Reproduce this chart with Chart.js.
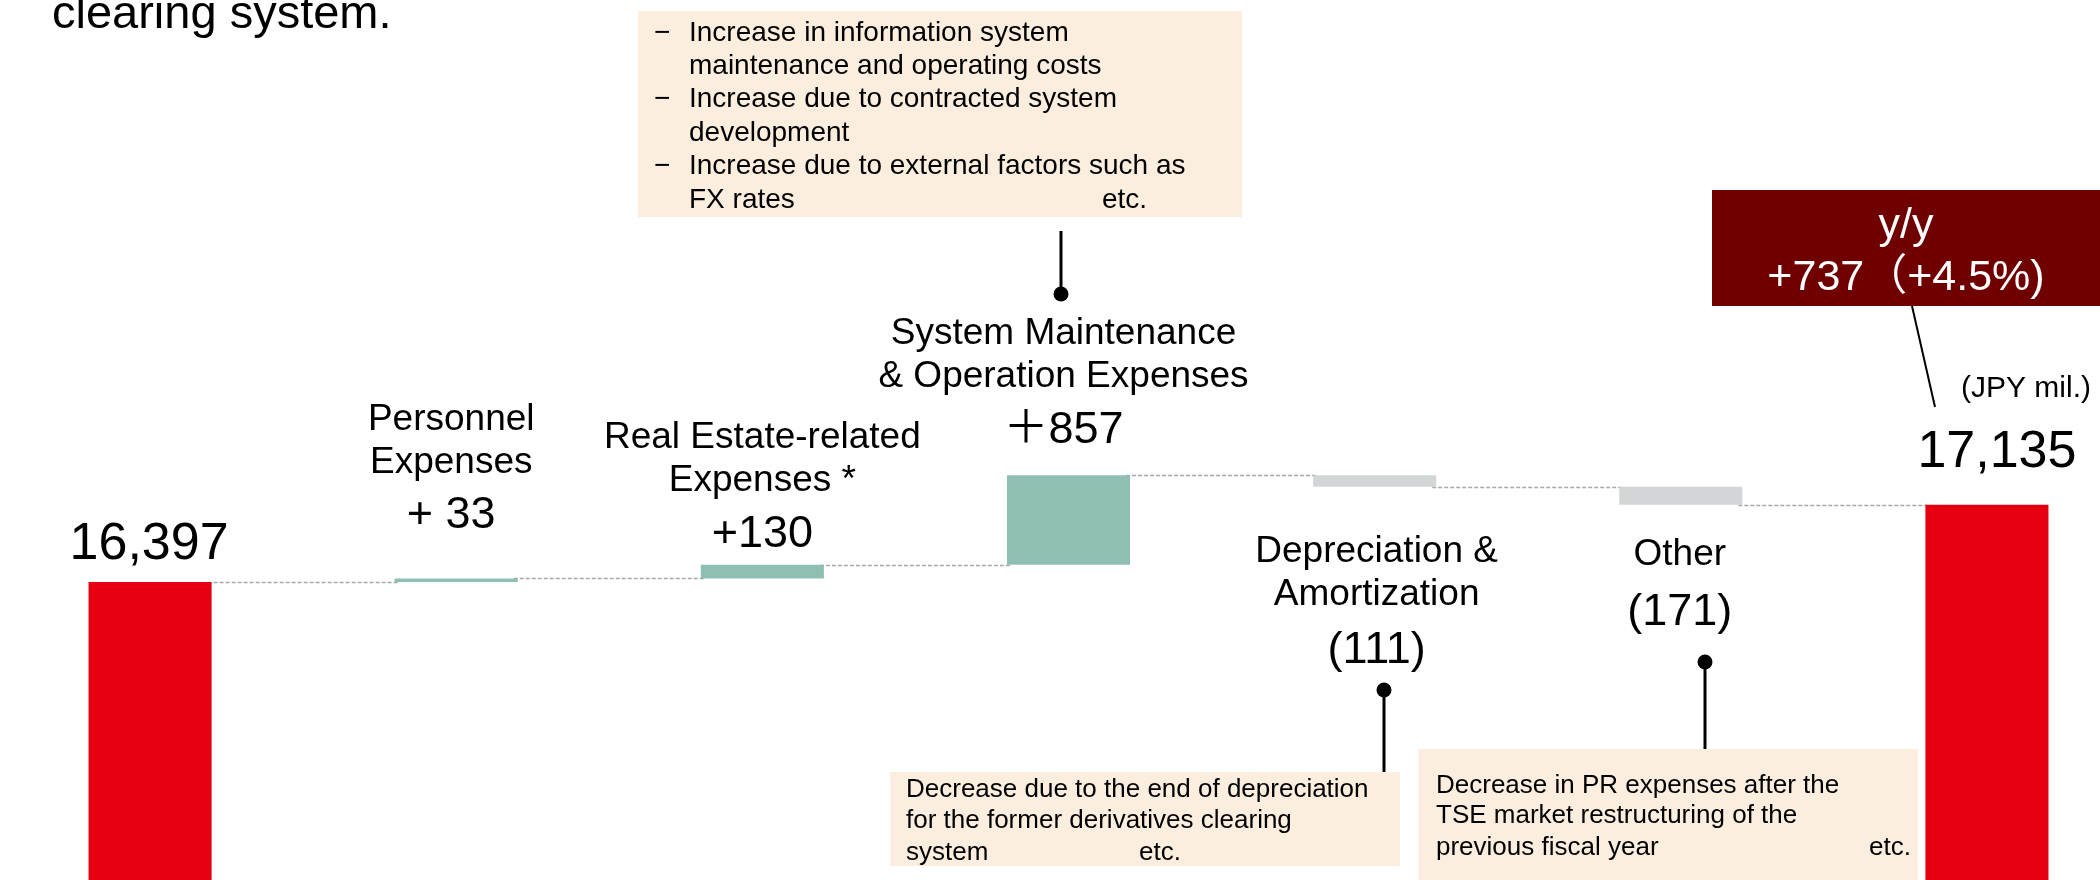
<!DOCTYPE html>
<html>
<head>
<meta charset="utf-8">
<script src="https://cdn.jsdelivr.net/npm/chart.js@4"></script>
<style>
  html, body { margin: 0; padding: 0; background: #fff; overflow: hidden; }
  body { width: 2100px; height: 880px; position: relative; }
  #wf { position: absolute; left: -3px; top: 0; }
</style>
</head>
<body>
<canvas id="wf" width="2143" height="880"></canvas>
<script>
// waterfall data (JPY mil.)
const categories = ["Previous FY", "Personnel Expenses", "Real Estate-related Expenses *",
  "System Maintenance & Operation Expenses", "Depreciation & Amortization", "Other", "Current FY"];
const startTotal = 16397;
const changes = [33, 130, 857, -111, -171];
const endTotal = 17135;

// texts shown next to the bars
const nameLines = [[], ["Personnel", "Expenses"], ["Real Estate-related", "Expenses *"],
  ["System Maintenance", "& Operation Expenses"], ["Depreciation &", "Amortization"], ["Other"], []];
const valueLabels = ["16,397", "+ 33", "+130", "＋857", "(111)", "(171)", "17,135"];

// y window of the visible part
const yMin = 13550;
const yMax = 21955;

const OFFSET_X = 3;
const FONT = "'Liberation Sans', Arial, 'Noto Sans CJK JP', sans-serif";

// build floating ranges
const ranges = [[0, startTotal]];
const levels = [startTotal];
let run = startTotal;
changes.forEach(function (c) {
  ranges.push([run, run + c]);
  run += c;
  levels.push(run);
});
ranges.push([0, endTotal]);
levels.push(endTotal);

const colors = ranges.map(function (r, i) {
  if (i === 0 || i === ranges.length - 1) return "#E60012";
  return r[1] >= r[0] ? "#8DBFB3" : "#D3D6D7";
});

// where the texts go, per bar
const labelPos = [
  { dx: -1, names: [], value: 559, size: 52 },
  { dx: -5, names: [430, 473], value: 528, size: 45 },
  { dx: 0, names: [448, 491], value: 547, size: 45 },
  { dx: -5, names: [344, 387], value: 443, size: 45 },
  { dx: 2, names: [562, 605], value: 663, size: 45 },
  { dx: -1, names: [565], value: 625, size: 45 },
  { dx: 10, names: [], value: 467, size: 52 }
];

function box(ctx, x, y, w, h, fill) {
  ctx.fillStyle = fill;
  ctx.fillRect(x, y, w, h);
}

function callout(ctx, x, y1, y2) {
  ctx.strokeStyle = "#000";
  ctx.lineWidth = 3;
  ctx.beginPath();
  ctx.moveTo(x, y1);
  ctx.lineTo(x, y2);
  ctx.stroke();
  ctx.fillStyle = "#000";
  ctx.beginPath();
  ctx.arc(x, y1, 7.5, 0, Math.PI * 2);
  ctx.fill();
}

const connectors = {
  id: "connectors",
  beforeDatasetsDraw(chart) {
    const ctx = chart.ctx;
    const bars = chart.getDatasetMeta(0).data;
    const y = chart.scales.y;
    ctx.save();
    ctx.strokeStyle = "#A8A8A8";
    ctx.lineWidth = 1.5;
    ctx.setLineDash([4, 2]);
    for (let i = 0; i < bars.length - 1; i++) {
      const py = Math.round(y.getPixelForValue(levels[i])) + 0.5;
      ctx.beginPath();
      ctx.moveTo(bars[i].x + bars[i].width / 2 - 4, py);
      ctx.lineTo(bars[i + 1].x - bars[i + 1].width / 2 + 4, py);
      ctx.stroke();
    }
    ctx.restore();
  }
};

const annotations = {
  id: "annotations",
  afterDraw(chart) {
    const ctx = chart.ctx;
    const bars = chart.getDatasetMeta(0).data;
    ctx.save();
    ctx.translate(OFFSET_X, 0);
    ctx.textBaseline = "alphabetic";

    // bar labels
    ctx.fillStyle = "#000";
    ctx.textAlign = "center";
    bars.forEach(function (bar, i) {
      const p = labelPos[i];
      const cx = bar.x - OFFSET_X + p.dx;
      ctx.font = "37px " + FONT;
      nameLines[i].forEach(function (t, j) {
        ctx.fillText(t, cx, p.names[j]);
      });
      ctx.font = p.size + "px " + FONT;
      ctx.fillText(valueLabels[i], cx, p.value);
    });

    // title fragment
    ctx.textAlign = "left";
    ctx.font = "47px " + FONT;
    ctx.fillText("clearing system.", 52, 28);

    // top note box
    box(ctx, 638, 11, 604, 206, "#FBEEDF");
    ctx.fillStyle = "#000";
    ctx.font = "28px " + FONT;
    const topLines = ["Increase in information system", "maintenance and operating costs",
      "Increase due to contracted system", "development",
      "Increase due to external factors such as", "FX rates"];
    topLines.forEach(function (t, j) {
      const by = 40.5 + j * 33.4;
      if (j % 2 === 0) ctx.fillText("\u2212", 654, by);
      ctx.fillText(t, 689, by);
    });
    ctx.fillText("etc.", 1102, 40.5 + 5 * 33.4);
    callout(ctx, 1061, 294, 231);

    // depreciation note
    box(ctx, 890, 772, 510, 94, "#FBEEDF");
    ctx.fillStyle = "#000";
    ctx.font = "26px " + FONT;
    ctx.fillText("Decrease due to the end of depreciation", 906, 797);
    ctx.fillText("for the former derivatives clearing", 906, 828);
    ctx.fillText("system", 906, 860);
    ctx.fillText("etc.", 1139, 860);
    callout(ctx, 1384, 690, 772);

    // other note
    box(ctx, 1418, 749, 500, 140, "#FBEEDF");
    ctx.fillStyle = "#000";
    ctx.fillText("Decrease in PR expenses after the", 1436, 793);
    ctx.fillText("TSE market restructuring of the", 1436, 823);
    ctx.fillText("previous fiscal year", 1436, 855);
    ctx.fillText("etc.", 1869, 855);
    callout(ctx, 1705, 662, 749);

    // y/y box
    box(ctx, 1712, 190, 400, 116, "#700000");
    ctx.fillStyle = "#fff";
    ctx.textAlign = "center";
    ctx.font = "43px " + FONT;
    ctx.fillText("y/y", 1906, 238);
    ctx.fillText("+737\uFF08+4.5%)", 1906, 290);
    ctx.strokeStyle = "#000";
    ctx.lineWidth = 2;
    ctx.beginPath();
    ctx.moveTo(1912, 306);
    ctx.lineTo(1935, 407);
    ctx.stroke();

    ctx.fillStyle = "#000";
    ctx.textAlign = "left";
    ctx.font = "30px " + FONT;
    ctx.fillText("(JPY mil.)", 1961, 397);
    ctx.restore();
  }
};

new Chart(document.getElementById("wf"), {
  type: "bar",
  data: {
    labels: categories,
    datasets: [{
      data: ranges,
      backgroundColor: colors,
      borderWidth: 0,
      borderSkipped: false,
      categoryPercentage: 1,
      barPercentage: 0.402
    }]
  },
  options: {
    responsive: false,
    animation: false,
    devicePixelRatio: 1,
    layout: { padding: 0 },
    plugins: { legend: { display: false }, tooltip: { enabled: false } },
    scales: {
      x: { display: false },
      y: { display: false, min: yMin, max: yMax }
    }
  },
  plugins: [connectors, annotations]
});
</script>
</body>
</html>
